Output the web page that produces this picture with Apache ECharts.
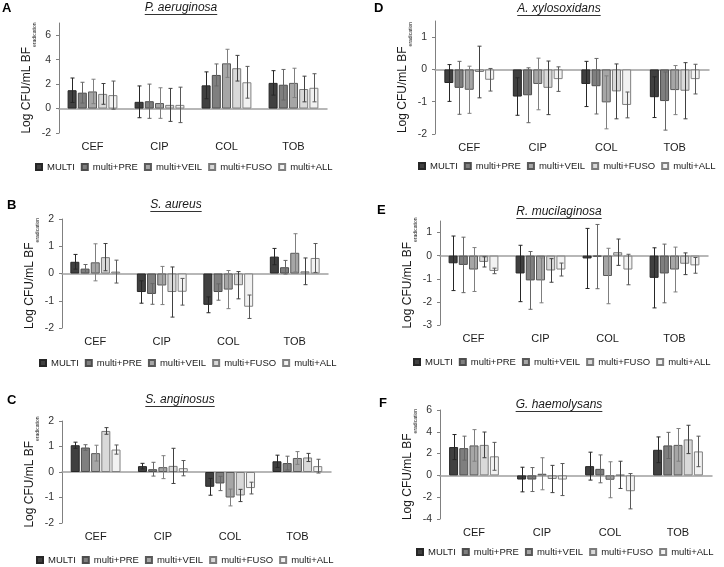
<!DOCTYPE html>
<html>
<head>
<meta charset="utf-8">
<script src="https://cdn.jsdelivr.net/npm/echarts@6/dist/echarts.min.js"></script>
<style>html,body{margin:0;padding:0;background:#fff}#c{width:724px;height:567px}</style>
</head>
<body>
<div id="c"></div>
<script>
// ---------- DATA ----------
const categories = ['CEF', 'CIP', 'COL', 'TOB'];
const seriesNames = ['MULTI', 'multi+PRE', 'multi+VEIL', 'multi+FUSO', 'multi+ALL'];

// rows = series (MULTI, PRE, VEIL, FUSO, ALL), columns = categories
const A_mean = [[1.5, 0.55, 1.9, 2.1], [1.3, 0.6, 2.75, 1.95], [1.4, 0.45, 3.7, 2.1], [1.2, 0.3, 3.3, 1.6], [1.1, 0.3, 2.15, 1.7]];
const A_err  = [[1.0, 1.3, 1.1, 1.0], [0.85, 1.4, 0.9, 1.25], [1.0, 1.25, 1.15, 1.2], [0.85, 1.35, 1.05, 1.05], [1.15, 1.45, 1.3, 1.15]];
const A_ticks = [-2, 0, 2, 4, 6];

const B_mean = [[0.43, -0.68, -1.15, 0.62], [0.18, -0.75, -0.68, 0.23], [0.41, -0.44, -0.59, 0.76], [0.6, -0.68, -0.43, 0.08], [0.07, -0.67, -1.22, 0.57]];
const B_err  = [[0.27, 0.41, 0.29, 0.3], [0.15, 0.38, 0.3, 0.25], [0.68, 0.7, 0.7, 0.7], [0.5, 0.92, 0.5, 0.49], [0.42, 0.49, 0.43, 0.53]];
const B_ticks = [-2, -1, 0, 1, 2];

const C_mean = [[1.05, 0.23, -0.58, 0.42], [0.96, 0.11, -0.45, 0.35], [0.74, 0.19, -1.0, 0.55], [1.61, 0.24, -0.92, 0.57], [0.88, 0.15, -0.63, 0.23]];
const C_err  = [[0.12, 0.11, 0.33, 0.24], [0.11, 0.27, 0.28, 0.27], [0.31, 0.45, 0.33, 0.25], [0.13, 0.69, 0.24, 0.16], [0.18, 0.3, 0.23, 0.27]];
const C_ticks = [-2, -1, 0, 1, 2];

const D_mean = [[-0.42, -0.84, -0.45, -0.86], [-0.57, -0.8, -0.52, -0.98], [-0.63, -0.45, -1.02, -0.64], [-0.08, -0.57, -0.68, -0.66], [-0.32, -0.3, -1.1, -0.3]];
const D_err  = [[0.57, 0.58, 0.7, 0.63], [0.82, 0.85, 0.86, 0.9], [0.73, 0.8, 0.82, 0.76], [0.8, 0.83, 0.85, 0.87], [0.35, 0.38, 0.4, 0.46]];
const D_ticks = [-2, -1, 0, 1];

const E_mean = [[-0.33, -0.77, -0.12, -0.96], [-0.4, -1.07, -0.04, -0.77], [-0.6, -1.07, -0.88, -0.6], [-0.27, -0.64, 0.15, -0.35], [-0.66, -0.6, -0.6, -0.42]];
const E_err  = [[1.18, 1.22, 1.3, 1.3], [1.2, 1.25, 1.39, 1.27], [0.95, 0.97, 1.2, 0.97], [0.22, 0.51, 0.57, 0.47], [0.12, 0.28, 0.66, 0.34]];
const E_ticks = [-3, -2, -1, 0, 1];

const F_mean = [[2.6, -0.38, 0.85, 2.35], [2.5, -0.38, 0.6, 2.75], [2.75, 0.15, -0.4, 2.8], [2.8, -0.33, 0.05, 3.3], [1.75, -0.38, -1.45, 2.2]];
const F_err  = [[1.15, 1.13, 1.28, 1.18], [1.1, 1.1, 1.28, 1.2], [1.45, 1.47, 1.65, 1.5], [1.18, 1.25, 1.25, 1.3], [1.28, 1.47, 1.62, 1.4]];
const F_ticks = [-4, -2, 0, 2, 4, 6];

// ---------- LAYOUT / STYLE ----------
const FONT = "'Liberation Sans', Arial, Helvetica, sans-serif";
const fills   = ['#404040', '#7f7f7f', '#a6a6a6', '#d9d9d9', '#f2f2f2'];
const borders = ['#262626', '#4d4d4d', '#595959', '#7a7a7a', '#808080'];
const errCols = ['#262626', '#666666', '#7f7f7f', '#404040', '#595959'];
const BW = 9, GAP = 1.2;

const panels = [
  {letter: 'A', title: 'P. aeruginosa', mean: A_mean, err: A_err, ticks: A_ticks, min: -2, max: 7,
   grid: {left: 59, top: 23, width: 268, height: 110}, titleXY: [181, 8], letterXY: [2, 8], legendXY: [181, 168]},
  {letter: 'B', title: 'S. aureus', mean: B_mean, err: B_err, ticks: B_ticks, min: -2, max: 2,
   grid: {left: 62, top: 219, width: 266, height: 109}, titleXY: [176, 205], letterXY: [7, 205], legendXY: [185, 364]},
  {letter: 'C', title: 'S. anginosus', mean: C_mean, err: C_err, ticks: C_ticks, min: -2, max: 2,
   grid: {left: 62, top: 421, width: 269, height: 102}, titleXY: [180, 400], letterXY: [7, 400], legendXY: [182, 561]},
  {letter: 'D', title: 'A. xylosoxidans', mean: D_mean, err: D_err, ticks: D_ticks, min: -2, max: 1.5,
   grid: {left: 435, top: 21, width: 274, height: 113}, titleXY: [559, 9], letterXY: [374, 8], legendXY: [564, 167]},
  {letter: 'E', title: 'R. mucilaginosa', mean: E_mean, err: E_err, ticks: E_ticks, min: -3, max: 1.5,
   grid: {left: 440, top: 221, width: 268, height: 104}, titleXY: [559, 212], letterXY: [377, 210], legendXY: [559, 363]},
  {letter: 'F', title: 'G. haemolysans', mean: F_mean, err: F_err, ticks: F_ticks, min: -4, max: 6,
   grid: {left: 440, top: 410, width: 272, height: 109}, titleXY: [559, 405], letterXY: [379, 403], legendXY: [562, 553]}
];

const mctx = document.createElement('canvas').getContext('2d');
function textW(str, font) { mctx.font = font; return mctx.measureText(str).width; }

function errRender(offset, color) {
  return function (params, api) {
    const ci = api.value(0), m = api.value(1), e = api.value(2);
    const x = Math.round(api.coord([ci, m])[0] + offset) + 0.5;
    const yt = api.coord([ci, m + e])[1], yb = api.coord([ci, m - e])[1];
    const cap = 2;
    const st = {stroke: color, lineWidth: 1};
    return {type: 'group', children: [
      {type: 'line', shape: {x1: x, y1: yt, x2: x, y2: yb}, style: st},
      {type: 'line', shape: {x1: x - cap, y1: yt, x2: x + cap, y2: yt}, style: st},
      {type: 'line', shape: {x1: x - cap, y1: yb, x2: x + cap, y2: yb}, style: st}
    ]};
  };
}

const grid = [], xAxis = [], yAxis = [], series = [], legend = [], graphic = [];
const legendFont = '9.5px ' + FONT;
const legendItemGap = 6;
let legendWidth = 0;
seriesNames.forEach((n, i) => { legendWidth += 6 + 5 + textW(n, legendFont) + (i ? legendItemGap : 0); });

panels.forEach((p, gi) => {
  grid.push(Object.assign({outerBoundsMode: 'none', containLabel: false}, p.grid));
  xAxis.push({
    gridIndex: gi, type: 'category', data: categories, position: 'bottom',
    axisLine: {show: false, onZero: false}, axisTick: {show: false},
    axisLabel: {fontSize: 11, color: '#1a1a1a', fontFamily: FONT, margin: 8},
    splitLine: {show: false}
  });
  xAxis.push({
    gridIndex: gi, type: 'category', data: categories,
    axisLine: {show: true, onZero: true, lineStyle: {color: '#a0a0a0', width: 1.5}},
    axisTick: {show: false}, axisLabel: {show: false}, splitLine: {show: false}
  });
  yAxis.push({
    gridIndex: gi, type: 'value', min: p.min, max: p.max,
    axisLine: {show: true, lineStyle: {color: '#808080', width: 1}},
    axisTick: {show: true, length: 3, lineStyle: {color: '#808080'}, customValues: p.ticks},
    axisLabel: {fontSize: 10.5, color: '#333', fontFamily: FONT, margin: 8, customValues: p.ticks},
    splitLine: {show: false},
    name: '{a|Log CFU/mL BF}{b|eradication}',
    nameLocation: 'middle', nameRotate: 90, nameGap: 22,
    nameTextStyle: {
      fontFamily: FONT, color: '#1a1a1a',
      rich: {
        a: {fontSize: 12, fontFamily: FONT, color: '#1a1a1a', lineHeight: 16, verticalAlign: 'top'},
        b: {fontSize: 5, fontFamily: FONT, color: '#1a1a1a', lineHeight: 8, verticalAlign: 'bottom'}
      }
    }
  });
  seriesNames.forEach((name, si) => {
    series.push({
      name: name, type: 'bar', xAxisIndex: gi * 2, yAxisIndex: gi,
      data: p.mean[si], barWidth: BW, barGap: (GAP / BW * 100).toFixed(1) + '%',
      itemStyle: {color: fills[si], borderColor: borders[si], borderWidth: 1},
      emphasis: {disabled: true}, z: 2
    });
  });
  seriesNames.forEach((name, si) => {
    series.push({
      name: 'err_' + p.letter + si, type: 'custom', xAxisIndex: gi * 2, yAxisIndex: gi,
      data: p.mean[si].map((m, ci) => [ci, m, p.err[si][ci]]),
      encode: {x: 0, y: 1},
      renderItem: errRender((si - 2) * (BW + GAP), errCols[si]), z: 5
    });
  });
  legend.push({
    data: seriesNames, left: Math.round(p.legendXY[0] - legendWidth / 2), top: p.legendXY[1] - 6,
    orient: 'horizontal', icon: 'rect', itemWidth: 6, itemHeight: 6, itemGap: legendItemGap,
    padding: 0, selectedMode: false,
    textStyle: {fontSize: 9.5, color: '#1a1a1a', fontFamily: FONT}
  });
  graphic.push({type: 'text', x: p.letterXY[0], y: p.letterXY[1],
    style: {text: p.letter, font: 'bold 13px ' + FONT, fill: '#000', textAlign: 'left', textVerticalAlign: 'middle'}});
  const tFont = 'italic 12px ' + FONT;
  const tw = textW(p.title, tFont);
  graphic.push({type: 'text', x: p.titleXY[0], y: p.titleXY[1],
    style: {text: p.title, font: tFont, fill: '#1a1a1a', textAlign: 'center', textVerticalAlign: 'middle'}});
  graphic.push({type: 'line', shape: {x1: p.titleXY[0] - tw / 2, y1: p.titleXY[1] + 6.5, x2: p.titleXY[0] + tw / 2, y2: p.titleXY[1] + 6.5},
    style: {stroke: '#333', lineWidth: 1}});
});

const chart = echarts.init(document.getElementById('c'), null, {renderer: 'canvas'});
chart.setOption({
  animation: false,
  backgroundColor: '#ffffff',
  textStyle: {fontFamily: FONT},
  grid, xAxis, yAxis, series, legend, graphic
});
</script>
</body>
</html>
